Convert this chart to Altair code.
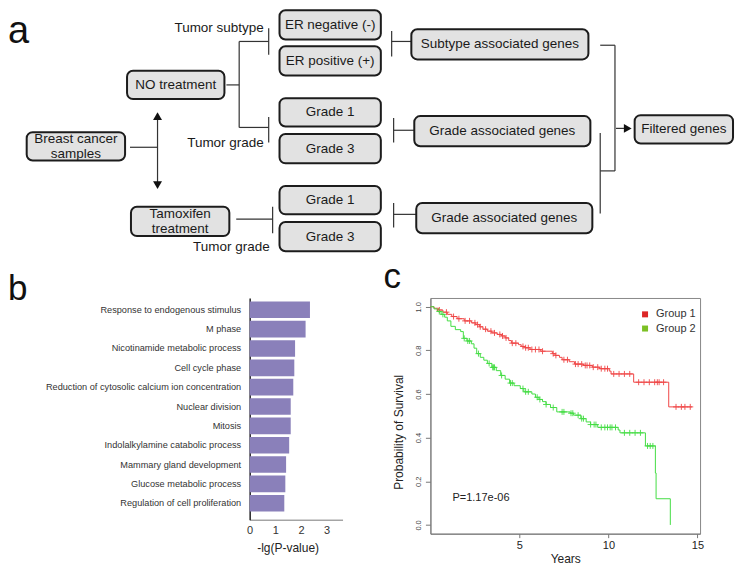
import bisect
import altair as alt
import pandas as pd

FONT = "Liberation Sans"

# ---------------- Panel a : flowchart ----------------
box_labels = ["Breast cancer\nsamples", "NO treatment", "Tamoxifen\ntreatment",
              "ER negative (-)", "ER positive (+)", "Grade 1", "Grade 3", "Grade 1", "Grade 3",
              "Subtype associated genes", "Grade associated genes", "Grade associated genes",
              "Filtered genes"]
side_labels = ["Tumor subtype", "Tumor grade", "Tumor grade"]

# layout (diagram units)
box_cx = [72, 173.5, 178, 330.5, 330.5, 330.5, 330.5, 330.5, 330.5, 503, 505.5, 507.5, 690]
box_cy = [147, 82, 226.5, 18.5, 56.5, 111, 149.5, 204, 242.5, 39, 131, 223, 129]
box_w = [100, 99, 100, 103, 103, 103, 103, 103, 103, 180, 179, 179, 100]
box_h = [30, 30, 31, 31, 31, 30, 31, 30, 31, 32, 32, 32, 30]
side_x = [263, 263, 269]
side_y = [22, 143, 254]
seg_x1 = [127, 155, 225, 238, 238, 238, 268, 268, 235, 272, 393, 393, 395, 395, 395, 395, 605, 620, 605, 605, 621]
seg_y1 = [148, 115, 82, 36, 36, 127, 22, 116, 224, 211, 25, 36, 117, 130, 207, 219, 40, 40, 173, 133, 128]
seg_x2 = [155, 155, 238, 238, 268, 268, 268, 268, 272, 272, 393, 413, 395, 416, 395, 418, 620, 620, 620, 605, 632]
seg_y2 = [148, 188, 82, 127, 36, 127, 50, 143, 224, 239, 52, 36, 143, 130, 233, 219, 40, 173, 173, 218, 128]
head_x = [155, 155, 633]
head_y = [115, 188, 128]
head_shape = ["triangle-up", "triangle-down", "triangle-right"]

LINE_STEP = 7.7  # half line height of two-line labels, diagram units

boxes = pd.DataFrame({"label": box_labels, "cx": box_cx, "cy": box_cy, "w": box_w, "h": box_h})
boxes["x1"] = boxes.cx - boxes.w / 2
boxes["x2"] = boxes.cx + boxes.w / 2
boxes["y1"] = boxes.cy - boxes.h / 2
boxes["y2"] = boxes.cy + boxes.h / 2
boxes["ty"] = boxes.cy - boxes.label.str.count("\n") * LINE_STEP
segs = pd.DataFrame({"x1": seg_x1, "y1": seg_y1, "x2": seg_x2, "y2": seg_y2})
heads = pd.DataFrame({"x": head_x, "y": head_y, "shape": head_shape})
sides = pd.DataFrame({"label": side_labels, "x": side_x, "y": side_y})
letter_a = pd.DataFrame({"label": ["a"], "x": [3], "y": [38]})

# panel a shares its left origin with panel b's plot; earlier diagram parts draw left of it
xs = alt.Scale(domain=[248.66, 741], nice=False, zero=False)
ys = alt.Scale(domain=[1, 261], reverse=True, nice=False, zero=False)

seg_layer = alt.Chart(segs).mark_rule(color="#333333", strokeWidth=1.2).encode(
    x=alt.X("x1:Q", scale=xs, axis=None), y=alt.Y("y1:Q", scale=ys, axis=None),
    x2="x2:Q", y2="y2:Q")
box_layer = alt.Chart(boxes).mark_rect(cornerRadius=6, fill="#e2e2e2", stroke="#1c1c1c",
                                       strokeWidth=2).encode(
    x=alt.X("x1:Q", scale=xs, axis=None), x2="x2:Q",
    y=alt.Y("y1:Q", scale=ys, axis=None), y2="y2:Q")
box_text = alt.Chart(boxes).mark_text(lineBreak="\n", fontSize=13.5, color="#1a1a1a",
                                      align="center", baseline="middle", lineHeight=14.5).encode(
    x=alt.X("cx:Q", scale=xs, axis=None), y=alt.Y("ty:Q", scale=ys, axis=None), text="label:N")
side_text = alt.Chart(sides).mark_text(fontSize=13.5, color="#1a1a1a", align="right",
                                       baseline="middle").encode(
    x=alt.X("x:Q", scale=xs, axis=None), y=alt.Y("y:Q", scale=ys, axis=None), text="label:N")
head_layer = alt.Chart(heads).mark_point(filled=True, color="#111111", size=80, opacity=1).encode(
    x=alt.X("x:Q", scale=xs, axis=None), y=alt.Y("y:Q", scale=ys, axis=None),
    shape=alt.Shape("shape:N", scale=None))
a_text = alt.Chart(letter_a).mark_text(fontSize=38, color="#111111", align="left",
                                       baseline="alphabetic").encode(
    x=alt.X("x:Q", scale=xs, axis=None), y=alt.Y("y:Q", scale=ys, axis=None), text="label:N")

panel_a = alt.layer(seg_layer, box_layer, box_text, side_text, head_layer, a_text).properties(
    width=485, height=246, view=alt.ViewBackground(stroke=None))

# ---------------- Panel b : GO enrichment bars ----------------
go_terms = ["Response to endogenous stimulus", "M phase", "Nicotinamide metabolic process",
            "Cell cycle phase", "Reduction of cytosolic calcium ion concentration",
            "Nuclear division", "Mitosis", "Indolalkylamine catabolic process",
            "Mammary gland development", "Glucose metabolic process",
            "Regulation of cell proliferation"]
go_vals = [2.35, 2.18, 1.77, 1.74, 1.70, 1.60, 1.60, 1.54, 1.42, 1.39, 1.35]
dfb = pd.DataFrame({"term": go_terms, "val": go_vals})
one = pd.DataFrame({"k": [0]})

bars = alt.Chart(dfb).mark_bar(color="#8a80ba").encode(
    y=alt.Y("term:N", sort=go_terms,
            scale=alt.Scale(paddingInner=0.14, paddingOuter=0.3, align=0.3),
            axis=alt.Axis(title=None, ticks=False, domainColor="#222222", domainWidth=1.5,
                          labelFontSize=9.2, labelColor="#333333", labelPadding=9,
                          labelLimit=400)),
    x=alt.X("val:Q", scale=alt.Scale(domain=[0, 3.62], nice=False, zero=True),
            axis=alt.Axis(values=[0, 1, 2, 3], ticks=False, grid=False, domainColor="#777777",
                          labelFontSize=11, labelColor="#333333", labelPadding=5,
                          labelFlush=False, title="-lg(P-value)", titleFontSize=12,
                          titleFontWeight="normal", titleColor="#222222", titlePadding=7,
                          titleX=38)))
b_text = alt.Chart(one).mark_text(fontSize=35, color="#111111", align="left",
                                  baseline="alphabetic").encode(
    x=alt.value(-242), y=alt.value(2), text=alt.value("b"))
panel_b = alt.layer(bars, b_text).properties(
    width=93, height=222, view=alt.ViewBackground(stroke=None))

# ---------------- Panel c : Kaplan-Meier ----------------
groups = ["Group 1", "Group 2"]
g1_time = [0, 0.2, 0.45, 0.7, 0.95, 1.2, 1.5, 1.9, 2.3, 2.55, 2.75, 2.95, 3.2, 3.45, 3.75, 4.0,
           4.2, 4.4, 4.55, 4.95, 5.1, 5.3, 5.6, 6.2, 6.85, 7.0, 7.25, 7.4, 7.8, 8.1, 8.6, 9.1,
           9.5, 10.05, 10.15, 11.42, 13.39, 14.7]
g1_surv = [1.0, 0.993, 0.985, 0.975, 0.965, 0.955, 0.945, 0.935, 0.926, 0.918, 0.908, 0.897,
           0.888, 0.880, 0.873, 0.866, 0.857, 0.845, 0.833, 0.826, 0.818, 0.812, 0.804, 0.796,
           0.785, 0.777, 0.768, 0.757, 0.748, 0.737, 0.731, 0.723, 0.716, 0.705, 0.692, 0.654,
           0.541, 0.541]
g2_time = [0, 0.2, 0.4, 0.6, 0.8, 0.95, 1.15, 1.4, 1.7, 1.85, 2.05, 2.3, 2.45, 2.6, 2.8, 3.0,
           3.2, 3.45, 3.7, 3.95, 4.2, 4.45, 4.7, 5.05, 5.25, 5.7, 5.9, 6.1, 6.3, 6.5, 6.75, 7.1,
           7.85, 8.05, 8.45, 8.75, 9.0, 9.4, 10.55, 10.65, 12.08, 12.64, 12.68, 13.48]
g2_surv = [1.0, 0.99, 0.978, 0.965, 0.952, 0.935, 0.91, 0.895, 0.886, 0.855, 0.843, 0.83, 0.81,
           0.785, 0.768, 0.755, 0.74, 0.722, 0.707, 0.685, 0.668, 0.65, 0.638, 0.625, 0.61, 0.6,
           0.585, 0.575, 0.565, 0.552, 0.538, 0.518, 0.512, 0.503, 0.487, 0.472, 0.46, 0.447,
           0.435, 0.422, 0.362, 0.238, 0.12, 0.0]
g1_censor = [0.5, 0.9, 1.3, 1.6, 1.95, 2.2, 2.5, 2.65, 2.8, 3.1, 3.4, 3.6, 3.9, 4.05, 4.25, 4.6,
             4.8, 5.2, 5.35, 5.5, 5.7, 5.9, 6.1, 6.3, 6.9, 7.05, 7.5, 7.7, 8.15, 8.3, 8.5, 8.7,
             8.8, 8.95, 9.15, 9.4, 9.6, 9.8, 9.95, 10.3, 10.6, 10.9, 11.2, 11.7, 12.0, 12.3,
             12.6, 12.75, 12.85, 13.1, 13.8, 14.1, 14.3, 14.6]
g2_censor = [0.5, 0.7, 1.9, 2.1, 2.2, 2.7, 3.3, 3.5, 3.55, 3.6, 4.0, 4.5, 4.6, 5.2, 5.35, 5.5,
             6.0, 6.15, 6.5, 6.9, 7.4, 7.5, 7.9, 8.0, 8.3, 8.5, 8.6, 9.0, 9.2, 9.3, 9.6, 9.8,
             9.95, 10.1, 10.2, 10.4, 10.9, 11.2, 11.5, 11.8, 12.2, 12.35, 12.5]
p_label = ["P=1.17e-06"]

line_colors = ["#f04646", "#44dd44"]
legend_colors = ["#dc2626", "#7cc024"]


def surv_at(times, surv, t):
    i = bisect.bisect_right(times, t) - 1
    return surv[max(i, 0)]


steps = pd.DataFrame({
    "t": g1_time + g2_time, "s": g1_surv + g2_surv,
    "group": ["Group 1"] * len(g1_time) + ["Group 2"] * len(g2_time)})
cens = pd.DataFrame({
    "t": g1_censor + g2_censor,
    "s": [surv_at(g1_time, g1_surv, t) for t in g1_censor]
         + [surv_at(g2_time, g2_surv, t) for t in g2_censor],
    "group": ["Group 1"] * len(g1_censor) + ["Group 2"] * len(g2_censor)})
# in-plot legend block (placed in the plot's top-right corner)
legend_df = pd.DataFrame({"key": groups, "sx": [12.06, 12.06], "lx": [12.68, 12.68],
                          "ly": [0.965, 0.90]})

xk = alt.Scale(domain=[0, 15.15], nice=False, zero=False)
yk = alt.Scale(domain=[-0.04, 1.04], nice=False, zero=False)
x_axis = alt.Axis(values=[5, 10, 15], title="Years", grid=False, tickSize=4, tickColor="#777777",
                  domainColor="#777777", labelFontSize=11, labelColor="#222222", labelPadding=2,
                  labelFlush=False, titleFontSize=12, titleFontWeight="normal",
                  titleColor="#222222", titlePadding=3)
y_axis = alt.Axis(values=[0, 0.2, 0.4, 0.6, 0.8, 1.0], format=".1f", labelAngle=270,
                  labelAlign="center", labelBaseline="bottom", labelFontSize=7.5,
                  labelColor="#444444", labelPadding=3, labelFlush=False, tickSize=5,
                  tickColor="#777777", domainColor="#777777", grid=False,
                  title="Probability of Survival", titleFontSize=12, titleFontWeight="normal",
                  titleColor="#222222", titlePadding=9, titleY=134)
stroke_enc = alt.Stroke("group:N", scale=alt.Scale(domain=groups, range=line_colors), legend=None)

km_lines = alt.Chart(steps).mark_line(interpolate="step-after", strokeWidth=1).encode(
    x=alt.X("t:Q", scale=xk, axis=x_axis), y=alt.Y("s:Q", scale=yk, axis=y_axis),
    stroke=stroke_enc, order="t:Q")
km_cens = alt.Chart(cens).mark_point(shape="M-1,0L1,0M0,-1L0,1", size=36, strokeWidth=1,
                                     filled=False, opacity=0.9).encode(
    x=alt.X("t:Q", scale=xk), y=alt.Y("s:Q", scale=yk), stroke=stroke_enc)
leg_sym = alt.Chart(legend_df).mark_square(size=36, opacity=1).encode(
    x=alt.X("sx:Q", scale=xk), y=alt.Y("ly:Q", scale=yk),
    fill=alt.Fill("key:N", scale=alt.Scale(domain=groups, range=legend_colors), legend=None))
leg_lab = alt.Chart(legend_df).mark_text(fontSize=11, color="#333333", align="left",
                                         baseline="middle").encode(
    x=alt.X("lx:Q", scale=xk), y=alt.Y("ly:Q", scale=yk), text="key:N")
p_text = alt.Chart(pd.DataFrame({"label": p_label, "t": [1.24], "s": [0.11]})).mark_text(
    fontSize=11, color="#222222", align="left", baseline="alphabetic").encode(
    x=alt.X("t:Q", scale=xk), y=alt.Y("s:Q", scale=yk), text="label:N")
c_text = alt.Chart(one).mark_text(fontSize=35, color="#111111", align="left",
                                  baseline="alphabetic").encode(
    x=alt.value(-47), y=alt.value(-10), text=alt.value("c"))

panel_c = alt.layer(km_lines, km_cens, leg_sym, leg_lab, p_text, c_text).properties(
    width=270, height=236, view=alt.ViewBackground(stroke="#888888", strokeWidth=1))

row = alt.hconcat(panel_b, panel_c, spacing=40).resolve_scale(
    fill="independent", stroke="independent")

chart = alt.vconcat(panel_a, row, spacing=5).resolve_scale(
    fill="independent", stroke="independent").properties(padding=0).configure(
    font=FONT, view=alt.ViewConfig(stroke=None))

chart.save("out.html", embed_options={"renderer": "svg", "actions": False})
